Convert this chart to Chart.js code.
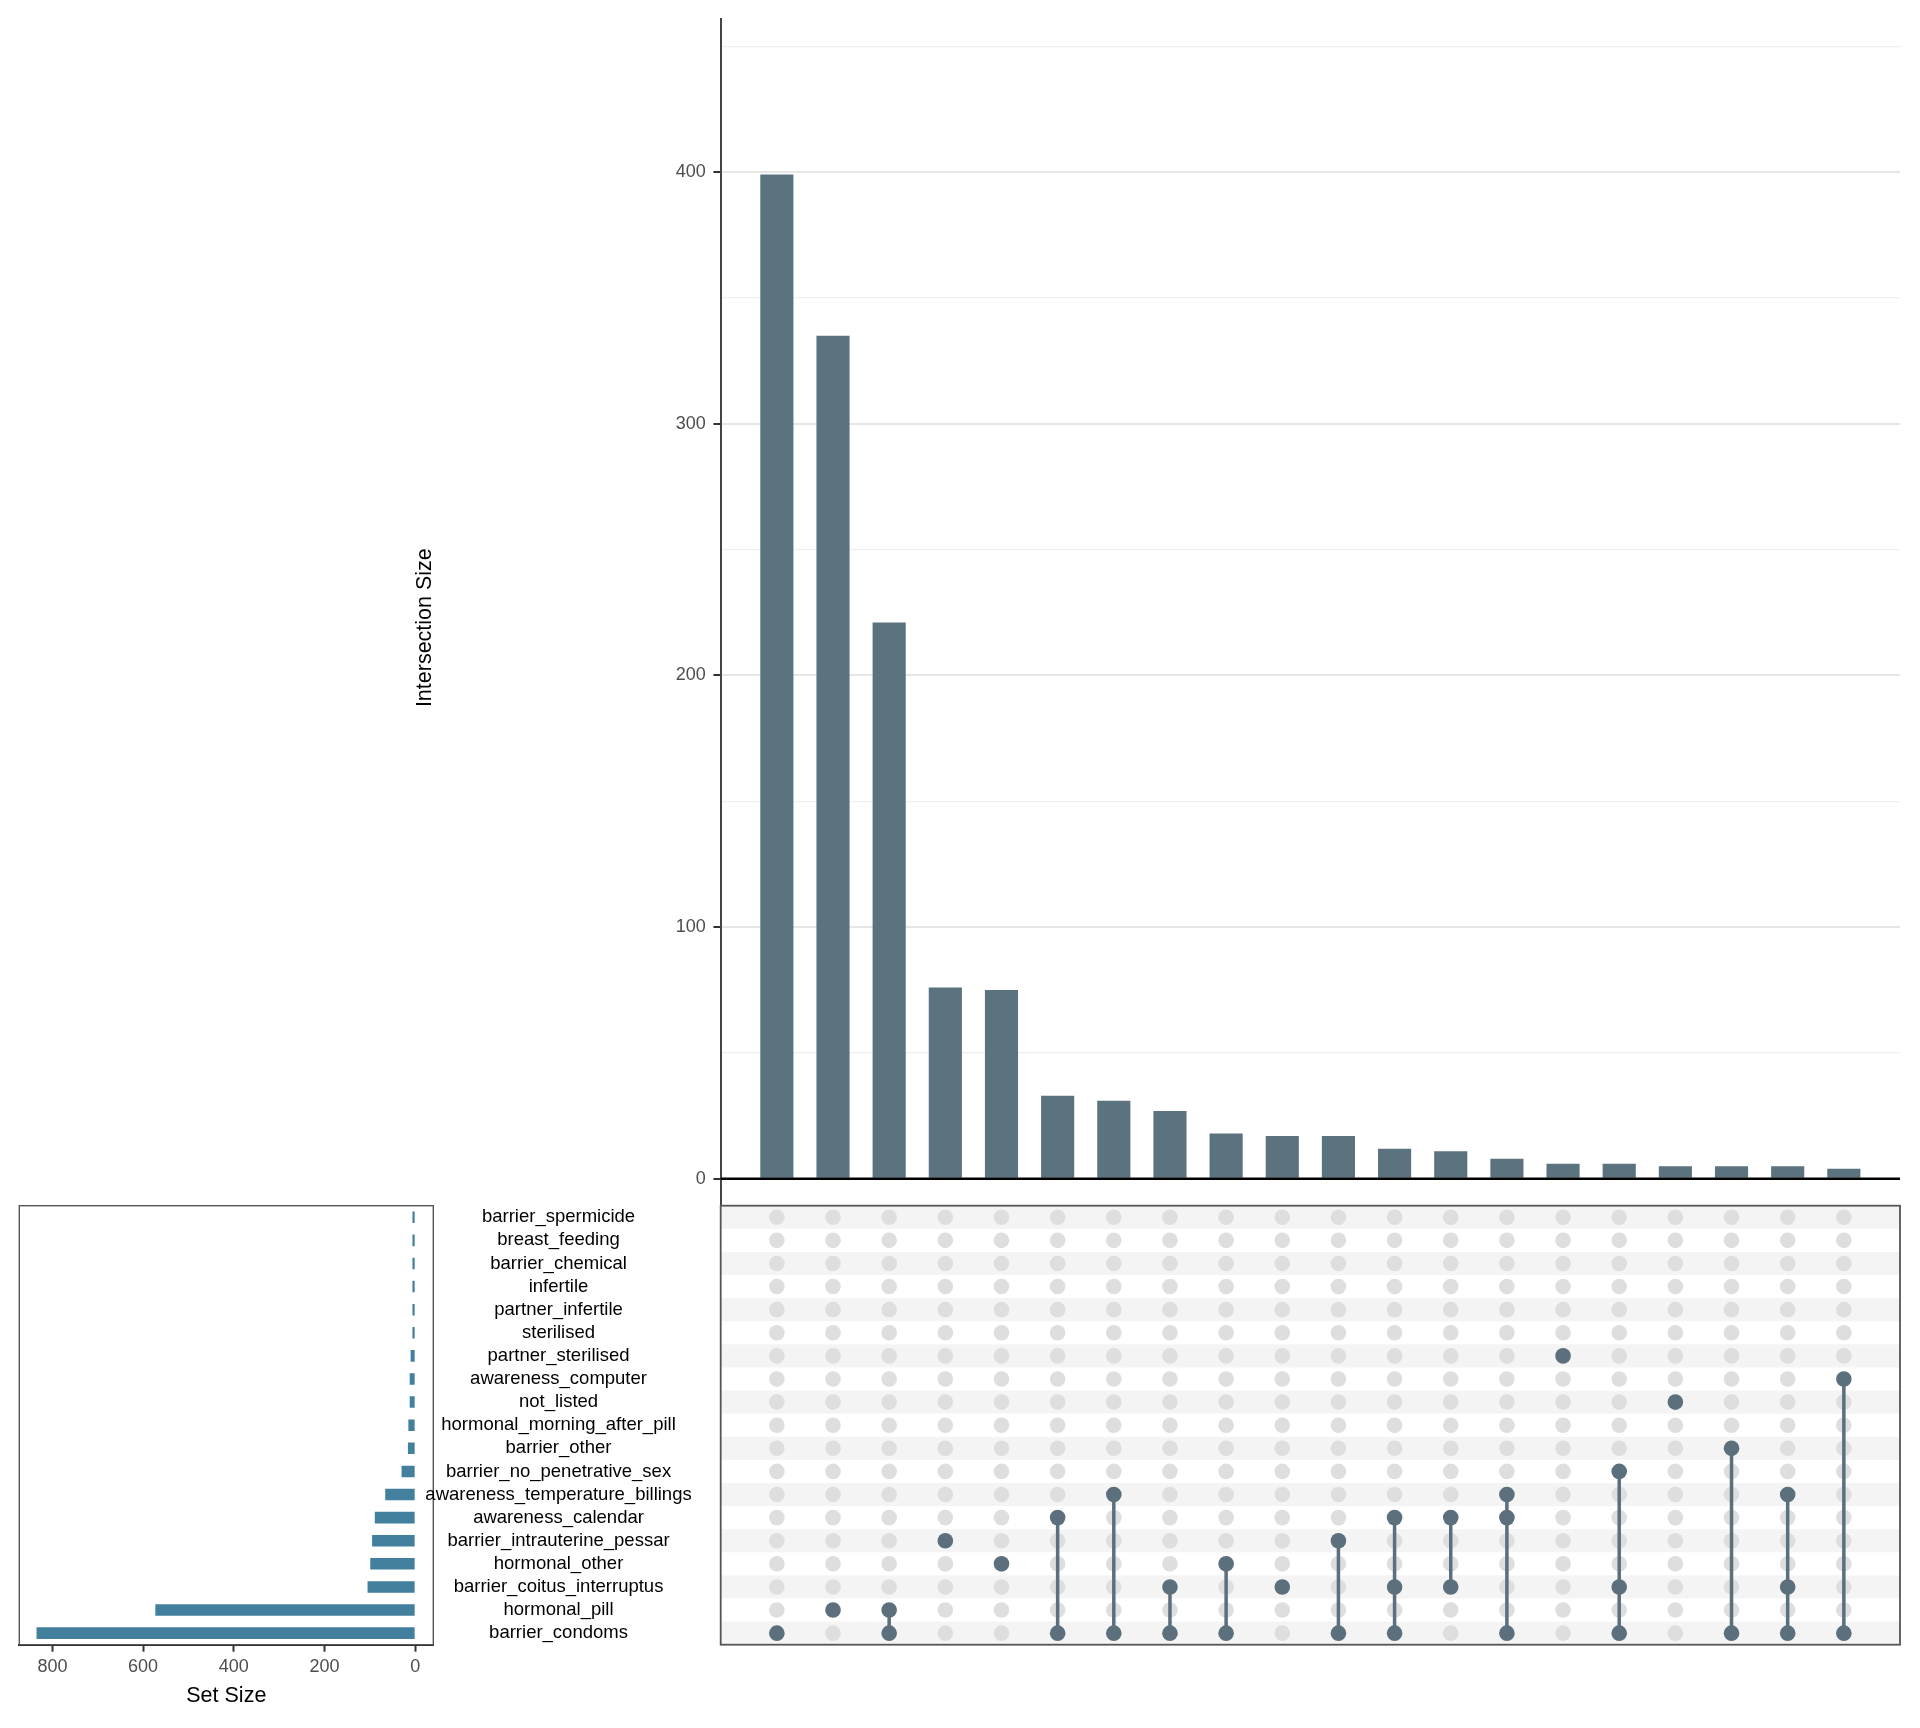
<!DOCTYPE html>
<html>
<head>
<meta charset="utf-8">
<script src="https://cdn.jsdelivr.net/npm/chart.js@4.4.1/dist/chart.umd.min.js"></script>
<style>
  body { margin: 0; background: #fff; }
  #wrap { position: relative; width: 1920px; height: 1728px; }
  canvas { position: absolute; }
</style>
</head>
<body>
<div id="wrap">
  <canvas id="setChart" width="460" height="548" style="left:0;top:1180px"></canvas>
  <canvas id="topChart" width="1920" height="1245" style="left:0;top:0"></canvas>
  <canvas id="matrixChart" width="1920" height="480" style="left:0;top:1180px"></canvas>
</div>
<script>
// sets, top to bottom as in the matrix
const sets = ['barrier_spermicide', 'breast_feeding', 'barrier_chemical', 'infertile',
  'partner_infertile', 'sterilised', 'partner_sterilised', 'awareness_computer', 'not_listed',
  'hormonal_morning_after_pill', 'barrier_other', 'barrier_no_penetrative_sex',
  'awareness_temperature_billings', 'awareness_calendar', 'barrier_intrauterine_pessar',
  'hormonal_other', 'barrier_coitus_interruptus', 'hormonal_pill', 'barrier_condoms'];
const setSizes = [6, 6, 6, 6, 6, 6, 10, 12, 12, 15, 16, 30, 66, 89, 95, 99, 105, 573, 835];

// intersections, left to right
const intersectionSizes = [399, 335, 221, 76, 75, 33, 31, 27, 18, 17, 17, 12, 11, 8, 6, 6, 5, 5, 5, 4];
const intersectionSets = [
  ['barrier_condoms'],
  ['hormonal_pill'],
  ['hormonal_pill', 'barrier_condoms'],
  ['barrier_intrauterine_pessar'],
  ['hormonal_other'],
  ['awareness_calendar', 'barrier_condoms'],
  ['awareness_temperature_billings', 'barrier_condoms'],
  ['barrier_coitus_interruptus', 'barrier_condoms'],
  ['hormonal_other', 'barrier_condoms'],
  ['barrier_coitus_interruptus'],
  ['barrier_intrauterine_pessar', 'barrier_condoms'],
  ['awareness_calendar', 'barrier_coitus_interruptus', 'barrier_condoms'],
  ['awareness_calendar', 'barrier_coitus_interruptus'],
  ['awareness_temperature_billings', 'awareness_calendar', 'barrier_condoms'],
  ['partner_sterilised'],
  ['barrier_no_penetrative_sex', 'barrier_coitus_interruptus', 'barrier_condoms'],
  ['not_listed'],
  ['barrier_other', 'barrier_condoms'],
  ['awareness_temperature_billings', 'barrier_coitus_interruptus', 'barrier_condoms'],
  ['awareness_computer', 'barrier_condoms']
];
const yTicks = [0, 50, 100, 150, 200, 250, 300, 350, 400, 450];
const setTicks = [0, 200, 400, 600, 800];

const FONT = 'Liberation Sans, Arial, Helvetica, sans-serif';
const barColor = '#5b727f';
const setColor = '#42809e';
const dotOn = '#5b6f7c';
const dotOff = '#dedede';
const AXIS_X = 720.7; // shared left edge of bar panel and matrix

Chart.defaults.font.family = FONT;
Chart.defaults.animation = false;
Chart.defaults.responsive = false;
Chart.defaults.plugins.legend.display = false;
Chart.defaults.plugins.tooltip.enabled = false;

// ---------- intersection size bars ----------
const zeroLine = {
  id: 'zeroLine',
  afterDatasetsDraw(chart) {
    const {ctx, chartArea, scales} = chart;
    const y = scales.y.getPixelForValue(0);
    ctx.save();
    ctx.strokeStyle = '#000';
    ctx.lineWidth = 2.5;
    ctx.beginPath();
    ctx.moveTo(chartArea.left, y);
    ctx.lineTo(chartArea.right, y);
    ctx.stroke();
    ctx.restore();
  }
};

new Chart(document.getElementById('topChart'), {
  type: 'bar',
  data: {
    datasets: [{
      data: intersectionSizes.map((v, i) => ({x: i + 1, y: v})),
      backgroundColor: barColor,
      categoryPercentage: 1,
      barPercentage: 0.59
    }]
  },
  options: {
    layout: {padding: {left: 412, top: 19.3, right: 20, bottom: 9}},
    scales: {
      x: {type: 'linear', min: 0, max: 21, offset: false, display: false},
      y: {
        min: -22.7,
        max: 460.7,
        afterBuildTicks: s => { s.ticks = yTicks.map(v => ({value: v})); },
        afterFit: s => { s.width = AXIS_X - 412; s.paddingTop = 0; s.paddingBottom = 0; },
        ticks: {
          autoSkip: false,
          padding: 7.7,
          color: '#4d4d4d',
          font: {size: 18},
          callback: v => (v % 100 === 0 ? v : '')
        },
        grid: {
          tickLength: 7.3,
          tickColor: c => (c.tick && c.tick.value % 100 === 0 ? '#333' : 'rgba(0,0,0,0)'),
          tickWidth: 2,
          color: c => (c.tick && c.tick.value === 0 ? 'rgba(0,0,0,0)' :
            (c.tick && c.tick.value % 100 === 0 ? '#e6e6e6' : '#efefef')),
          lineWidth: c => (c.tick && c.tick.value % 100 === 0 ? 2 : 1.3)
        },
        border: {color: '#444', width: 2},
        title: {
          display: true,
          text: 'Intersection Size',
          color: '#000',
          font: {size: 21.5},
          padding: 0
        }
      }
    }
  },
  plugins: [zeroLine]
});

// ---------- matrix ----------
const stripes = {
  id: 'stripes',
  beforeDatasetsDraw(chart) {
    const {ctx, chartArea, scales} = chart;
    const h = scales.y.getPixelForValue(1) - scales.y.getPixelForValue(0);
    ctx.save();
    ctx.fillStyle = '#fff';
    ctx.fillRect(chartArea.left, chartArea.top, chartArea.right - chartArea.left, chartArea.bottom - chartArea.top);
    ctx.fillStyle = '#f4f4f4';
    sets.forEach((s, i) => {
      if (i % 2 === 0) {
        const yc = scales.y.getPixelForValue(i);
        ctx.fillRect(chartArea.left, yc - h / 2, chartArea.right - chartArea.left, h);
      }
    });
    ctx.restore();
  },
  afterDraw(chart) {
    const {ctx, chartArea} = chart;
    ctx.save();
    ctx.strokeStyle = '#555';
    ctx.lineWidth = 1.8;
    ctx.strokeRect(chartArea.left, chartArea.top, chartArea.right - chartArea.left, chartArea.bottom - chartArea.top);
    ctx.restore();
  }
};

const offDots = [];
const onDots = [];
const connectors = [];
intersectionSets.forEach((members, i) => {
  sets.forEach(s => {
    if (members.includes(s)) onDots.push({x: i + 1, y: s});
    else offDots.push({x: i + 1, y: s});
  });
  if (members.length > 1) {
    const idx = members.map(m => sets.indexOf(m));
    const top = sets[Math.min(...idx)];
    const bottom = sets[Math.max(...idx)];
    connectors.push({
      data: [{x: i + 1, y: top}, {x: i + 1, y: bottom}],
      showLine: true,
      borderColor: dotOn,
      borderWidth: 3.5,
      pointRadius: 0,
      order: 1
    });
  }
});

new Chart(document.getElementById('matrixChart'), {
  type: 'scatter',
  data: {
    datasets: [
      {data: onDots, backgroundColor: dotOn, borderWidth: 0, pointRadius: 7.8, order: 0},
      ...connectors,
      {data: offDots, backgroundColor: dotOff, borderWidth: 0, pointRadius: 7.8, order: 2}
    ]
  },
  options: {
    layout: {padding: {left: 0, top: 25.7, right: 20, bottom: 15.3}},
    scales: {
      x: {type: 'linear', min: 0, max: 21, display: false},
      y: {
        type: 'category',
        labels: sets,
        offset: true,
        afterFit: s => { s.width = AXIS_X; s.paddingTop = 0; s.paddingBottom = 0; },
        grid: {display: false, drawTicks: false},
        border: {display: false},
        ticks: {
          autoSkip: false,
          crossAlign: 'center',
          padding: 29,
          color: '#000',
          font: {size: 18.5}
        }
      }
    }
  },
  plugins: [stripes]
});

// ---------- set size bars ----------
const panelBox = {
  id: 'panelBox',
  afterDraw(chart) {
    const {ctx, chartArea} = chart;
    ctx.save();
    ctx.strokeStyle = '#555';
    ctx.lineWidth = 1.4;
    ctx.strokeRect(chartArea.left, chartArea.top, chartArea.right - chartArea.left, chartArea.bottom - chartArea.top);
    ctx.restore();
  }
};

new Chart(document.getElementById('setChart'), {
  type: 'bar',
  data: {
    labels: sets,
    datasets: [{
      data: setSizes,
      backgroundColor: setColor,
      categoryPercentage: 1,
      barPercentage: 0.5
    }]
  },
  options: {
    indexAxis: 'y',
    layout: {padding: {left: 19.3, top: 25.7, right: 26.7, bottom: 0}},
    scales: {
      y: {display: false},
      x: {
        type: 'linear',
        reverse: true,
        min: -40,
        max: 873,
        afterBuildTicks: s => { s.ticks = setTicks.map(v => ({value: v})); },
        afterFit: s => { s.height = 83.3; s.paddingLeft = 0; s.paddingRight = 0; },
        grid: {drawOnChartArea: false, tickLength: 7, tickColor: '#333', tickWidth: 2},
        border: {color: '#222', width: 2},
        ticks: {autoSkip: false, padding: 5, color: '#4d4d4d', font: {size: 18}, maxRotation: 0},
        title: {
          display: true,
          text: 'Set Size',
          color: '#000',
          font: {size: 21.5},
          padding: {top: 0, bottom: 19}
        }
      }
    }
  },
  plugins: [panelBox]
});
</script>
</body>
</html>
